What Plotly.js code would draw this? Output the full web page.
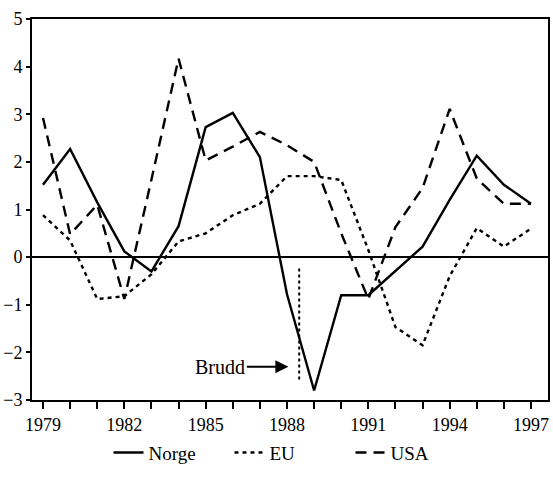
<!DOCTYPE html>
<html>
<head>
<meta charset="utf-8">
<script src="https://cdn.plot.ly/plotly-3.0.1.min.js"></script>
<style>html,body{margin:0;padding:0;background:#fff}#chart{width:553px;height:477px}</style>
</head>
<body>
<div id="chart"></div>
<script>
const years = [1979,1980,1981,1982,1983,1984,1985,1986,1987,1988,1989,1990,1991,1992,1993,1994,1995,1996,1997];
const norge = [1.52,2.27,1.15,0.12,-0.3,0.65,2.73,3.03,2.1,-0.78,-2.8,-0.8,-0.8,-0.3,0.22,1.2,2.13,1.52,1.12];
const eu    = [0.88,0.35,-0.88,-0.82,-0.36,0.33,0.5,0.88,1.12,1.7,1.7,1.62,0.15,-1.47,-1.85,-0.4,0.61,0.22,0.6];
const usa   = [2.92,0.48,1.1,-0.88,1.63,4.17,2.03,2.32,2.63,2.35,2.0,0.5,-0.88,0.63,1.45,3.11,1.65,1.12,1.12];
const seriesNames = ["Norge","EU","USA"];
const tickYears = [1979,1982,1985,1988,1991,1994,1997];
const breakLabel = "Brudd";
const breakYear = 1988.45;
const breakRange = [-0.24, -2.62];

const font = {family: "Liberation Serif", color: "#000"};
const traces = [
  {x: years, y: norge, name: seriesNames[0], mode: "lines", line: {color: "#000", width: 2.4}},
  {x: years, y: eu, name: seriesNames[1], mode: "lines", line: {color: "#000", width: 2.4, dash: "4px,4px"}},
  {x: years, y: usa, name: seriesNames[2], mode: "lines", line: {color: "#000", width: 2.4, dash: "11px,7px"}}
];
const layout = {
  width: 553, height: 477,
  margin: {l: 32, r: 5, t: 19, b: 66},
  paper_bgcolor: "#fff", plot_bgcolor: "#fff",
  font: Object.assign({size: 18}, font),
  showlegend: true,
  legend: {orientation: "h", x: 0.5, xanchor: "center", y: -0.138, yanchor: "middle",
           font: Object.assign({size: 19}, font), entrywidth: 76, entrywidthmode: "pixels"},
  xaxis: {range: [1978.594, 1997.627], tickmode: "array", tickvals: tickYears, ticktext: tickYears.map(String),
          ticks: "outside", ticklen: 7, tickwidth: 2, tickcolor: "#000",
          minor: {tickmode: "array", tickvals: years, ticks: "outside", ticklen: 7, tickwidth: 2, tickcolor: "#000", showgrid: false},
          showline: true, linewidth: 2, linecolor: "#000", mirror: true,
          showgrid: false, zeroline: false, tickfont: Object.assign({size: 18}, font)},
  yaxis: {range: [-3, 5], dtick: 1, ticks: "outside", ticklen: 4, tickwidth: 2, tickcolor: "#000",
          showline: true, linewidth: 2, linecolor: "#000", mirror: true,
          showgrid: false, zeroline: true, zerolinewidth: 2, zerolinecolor: "#000",
          tickfont: Object.assign({size: 18}, font), ticklabelstandoff: 0},
  shapes: [
    {type: "line", xref: "x", yref: "y", x0: breakYear, x1: breakYear, y0: breakRange[0], y1: breakRange[1],
     line: {color: "#000", width: 2, dash: "3px,3px"}}
  ],
  annotations: [
    {x: 1988.05, y: -2.3, xref: "x", yref: "y", text: breakLabel, showarrow: true,
     axref: "pixel", ayref: "pixel", ax: -68, ay: 0, arrowhead: 2, arrowsize: 1.3, arrowwidth: 2,
     arrowcolor: "#000", font: Object.assign({size: 20}, font), standoff: 0, startstandoff: 0}
  ]
};
Plotly.newPlot("chart", traces, layout, {displayModeBar: false, staticPlot: true});
</script>
</body>
</html>
